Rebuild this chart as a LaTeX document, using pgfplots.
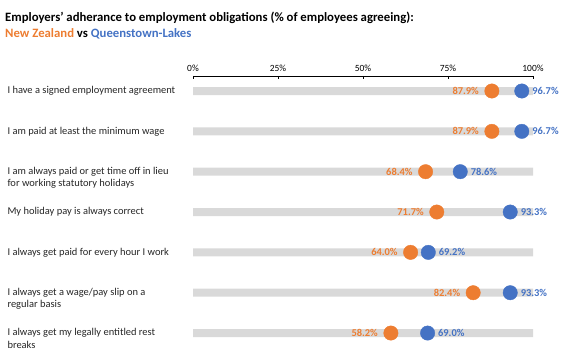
\documentclass[border=0pt]{standalone}
\usepackage{pgfplots}
\pgfplotsset{compat=1.18}
\usepackage{fontspec}
\setmainfont{Carlito}
\pgfkeys{/pgf/number format/assume math mode=true}
\definecolor{nzor}{HTML}{ED7D31}
\definecolor{qlblue}{HTML}{4472C4}
\definecolor{bargray}{HTML}{D9D9D9}
\begin{document}
\begin{tikzpicture}[x=1bp,y=1bp]
\useasboundingbox (0,0) rectangle (570,350);
\node[anchor=base west, inner sep=0pt, font=\bfseries\fontsize{12.8}{15}\selectfont] at (5,329) {Employers' adherance to employment obligations (\% of employees agreeing):};
\node[anchor=base west, inner sep=0pt, font=\bfseries\fontsize{12.8}{15}\selectfont] at (5,313) {\textcolor{nzor}{New Zealand} vs \textcolor{qlblue}{Queenstown-Lakes}};
\begin{axis}[
  at={(193bp,274bp)}, anchor=north west,
  scale only axis, width=340bp, height=274bp,
  xmin=0, xmax=100, ymin=-6.42, ymax=0.372,
  clip=false,
  axis x line*=top, axis y line*=left,
  y axis line style={draw=none},
  x axis line style={line width=0.9pt, -},
  xtick={0,25,50,75,100},
  xticklabel={\pgfmathprintnumber[assume math mode=true]{\tick}\%},
  xtick align=inside,
  major tick length=3bp,
  xtick style={line width=0.6pt, black},
  xticklabel style={font=\fontsize{9.5}{11}\selectfont, yshift=1bp},
  ytick={0,-1,-2,-3,-4,-5,-6},
  ytick style={draw=none},
  yticklabels={
    {I have a signed employment agreement},
    {I am paid at least the minimum wage},
    {I am always paid or get time off in lieu\\for working statutory holidays},
    {My holiday pay is always correct},
    {I always get paid for every hour I work},
    {I always get a wage/pay slip on a\\regular basis},
    {I always get my legally entitled rest\\breaks}},
  yticklabel style={anchor=north west, align=left, xshift=-189bp, yshift=8bp,
    font=\fontsize{10.5}{12.5}\selectfont, text=black!85},
]
\addplot[xbar, bar width=8bp, fill=bargray, draw=none, forget plot]
  coordinates {(100,0) (100,-1) (100,-2) (100,-3) (100,-4) (100,-5) (100,-6)};
\addplot[only marks, mark=*, mark size=7.2bp, color=nzor,
  point meta=x,
  nodes near coords={\pgfmathprintnumber[fixed,fixed zerofill,precision=1,assume math mode=true]{\pgfplotspointmeta}\%},
  every node near coord/.append style={anchor=east, xshift=-9.5bp, yshift=0bp, text=nzor, font=\bfseries\fontsize{10.5}{12}\selectfont}]
  coordinates {(87.9,0) (87.9,-1) (68.4,-2) (71.7,-3) (64.0,-4) (82.4,-5) (58.2,-6)};
\addplot[only marks, mark=*, mark size=7.2bp, color=qlblue,
  point meta=x,
  nodes near coords={\pgfmathprintnumber[fixed,fixed zerofill,precision=1,assume math mode=true]{\pgfplotspointmeta}\%},
  every node near coord/.append style={anchor=west, xshift=7bp, yshift=0bp, text=qlblue, font=\bfseries\fontsize{10.5}{12}\selectfont}]
  coordinates {(96.7,0) (96.7,-1) (78.6,-2) (93.3,-3) (69.2,-4) (93.3,-5) (69.0,-6)};
\end{axis}
\end{tikzpicture}
\end{document}
